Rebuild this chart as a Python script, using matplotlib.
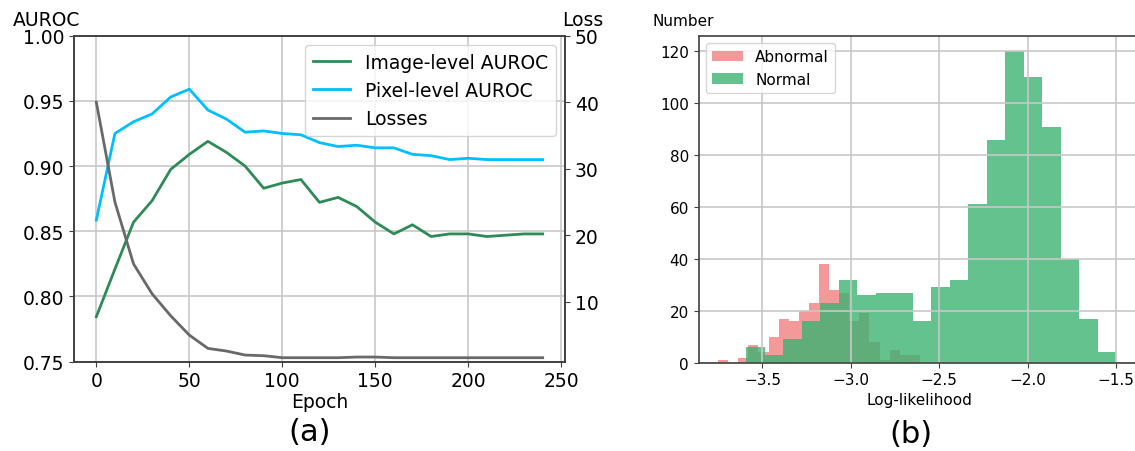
import numpy as np
import matplotlib.pyplot as plt

# (a) training curves
epochs = [0, 10, 20, 30, 40, 50, 60, 70, 80, 90, 100, 110, 120,
          130, 140, 150, 160, 170, 180, 190, 200, 210, 220, 230, 240]
image_auroc = [0.7845, 0.821, 0.857, 0.8735, 0.8975, 0.909, 0.919, 0.9105, 0.900,
               0.883, 0.887, 0.8897, 0.8722, 0.876, 0.869, 0.857, 0.848, 0.855,
               0.846, 0.848, 0.848, 0.846, 0.847, 0.848, 0.848]
pixel_auroc = [0.8586, 0.925, 0.934, 0.940, 0.953, 0.959, 0.943, 0.936, 0.926,
               0.927, 0.925, 0.924, 0.918, 0.915, 0.916, 0.914, 0.914, 0.909,
               0.908, 0.905, 0.906, 0.905, 0.905, 0.905, 0.905]
losses = [40.0, 25.0, 15.7, 11.2, 7.9, 5.0, 3.0, 2.6, 2.0, 1.9, 1.6, 1.6, 1.6,
          1.6, 1.7, 1.7, 1.6, 1.6, 1.6, 1.6, 1.6, 1.6, 1.6, 1.6, 1.6]

# (b) log-likelihood histograms
abnormal_range = (-3.75, -2.61)
abnormal_counts = [1, 0, 2, 7, 4, 10, 17, 16, 20, 23, 38, 28, 27, 16, 19, 8, 1, 5, 3, 3]
normal_range = (-3.59, -1.50)
normal_counts = [6, 3, 9, 16, 23, 32, 26, 27, 27, 16, 29, 32, 61, 86, 120, 110, 91, 40, 17, 4]

W, H = 1135, 452
fig = plt.figure(figsize=(W / 100, H / 100), dpi=100)

fs_a = 13.5
fs_b = 11
spine_c = "#404040"
grid_c = "#c8c8c8"

# ---- left panel
ax1 = fig.add_axes([74 / W, 1 - 362.7 / H, (565 - 74) / W, (362.7 - 36.7) / H])
l1, = ax1.plot(epochs, image_auroc, color="seagreen", lw=2, label="Image-level AUROC")
l2, = ax1.plot(epochs, pixel_auroc, color="deepskyblue", lw=2, label="Pixel-level AUROC")
ax1.set_ylim(0.75, 1.00)
ax1.set_xlim(-12, 252)
ax1.set_yticks([0.75, 0.80, 0.85, 0.90, 0.95, 1.00])
ax1.set_xticks([0, 50, 100, 150, 200, 250])
ax1.grid(True, color=grid_c, lw=1.2)
ax1.tick_params(labelsize=fs_a, color=spine_c)
ax1.set_xlabel("Epoch", fontsize=fs_a, labelpad=1)

ax2 = ax1.twinx()
l3, = ax2.plot(epochs, losses, color="dimgray", lw=2, label="Losses")
ax2.set_ylim(1.0, 50)
ax2.set_yticks([10, 20, 30, 40, 50])
ax2.tick_params(labelsize=fs_a, color=spine_c)
for a in (ax1, ax2):
    for s in a.spines.values():
        s.set_color(spine_c)
        s.set_linewidth(1.2)
ax2.legend(handles=[l1, l2, l3], loc="upper right", fontsize=fs_a)

fig.text(13 / W, 1 - 20 / H, "AUROC", fontsize=fs_a, ha="left", va="center")
fig.text(562 / W, 1 - 20 / H, "Loss", fontsize=fs_a, ha="left", va="center")
fig.text(310 / W, 1 - 433 / H, "(a)", fontsize=22, ha="center", va="center")

# ---- right panel
ax3 = fig.add_axes([698.7 / W, 1 - 363.7 / H, (1141 - 698.7) / W, (363.7 - 36.7) / H])
ab_edges = np.linspace(abnormal_range[0], abnormal_range[1], len(abnormal_counts) + 1)
no_edges = np.linspace(normal_range[0], normal_range[1], len(normal_counts) + 1)
ax3.hist(ab_edges[:-1], bins=ab_edges, weights=abnormal_counts,
         color="lightcoral", alpha=0.8, label="Abnormal")
ax3.hist(no_edges[:-1], bins=no_edges, weights=normal_counts,
         color="mediumseagreen", alpha=0.8, label="Normal")
ax3.set_xlim(-3.86, -1.36)
ax3.set_ylim(0, 126)
ax3.set_xticks([-3.5, -3.0, -2.5, -2.0, -1.5])
ax3.set_yticks([0, 20, 40, 60, 80, 100, 120])
ax3.grid(True, color=grid_c, lw=1.2)
ax3.tick_params(labelsize=fs_b, color=spine_c)
for s in ax3.spines.values():
    s.set_color(spine_c)
    s.set_linewidth(1.2)
ax3.set_xlabel("Log-likelihood", fontsize=fs_b, labelpad=3)
ax3.legend(loc="upper left", fontsize=fs_b)

fig.text(653 / W, 1 - 22 / H, "Number", fontsize=fs_b, ha="left", va="center")
fig.text(911 / W, 1 - 435 / H, "(b)", fontsize=22, ha="center", va="center")

fig.savefig("out.png", dpi=100)
